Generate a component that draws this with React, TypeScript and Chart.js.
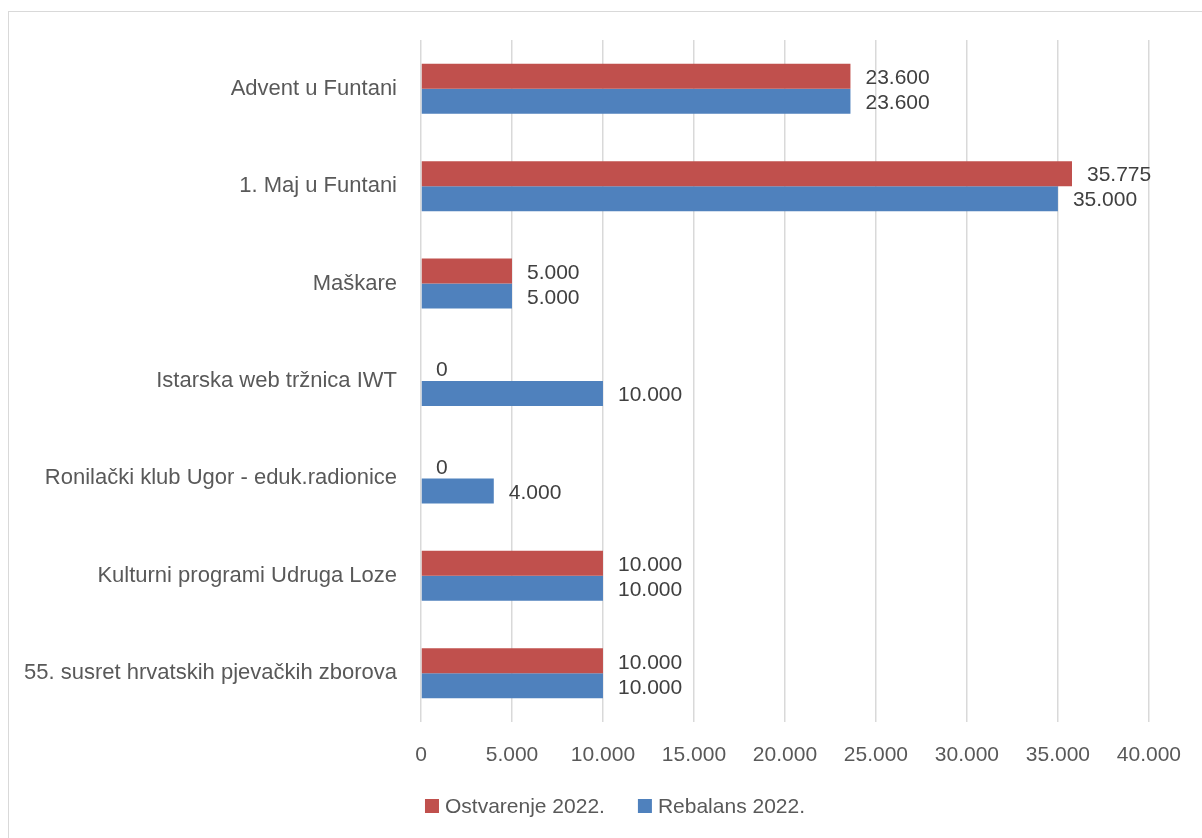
import React, { useEffect, useRef } from "react";
import { Chart, registerables } from "chart.js";

Chart.register(...registerables);

const categories = [
  "Advent u Funtani",
  "1. Maj u Funtani",
  "Maškare",
  "Istarska web tržnica IWT",
  "Ronilački klub Ugor - eduk.radionice",
  "Kulturni programi Udruga Loze",
  "55. susret hrvatskih pjevačkih zborova",
];
const ostvarenje2022 = [23600, 35775, 5000, 0, 0, 10000, 10000];
const rebalans2022 = [23600, 35000, 5000, 10000, 4000, 10000, 10000];
const seriesLabels = ["Ostvarenje 2022.", "Rebalans 2022."];
const seriesColors = ["#C0504D", "#4F81BD"];

const FONT = "'Liberation Sans', Arial, sans-serif";
const FONT_SIZE = 21;
const CAT_FONT_SIZE = 22;

const fmt = (v: number) =>
  String(Math.round(v)).replace(/\B(?=(\d{3})+(?!\d))/g, ".");

const valueLabels = {
  id: "valueLabels",
  afterDatasetsDraw(chart: any) {
    const ctx = chart.ctx;
    ctx.save();
    ctx.font = `${FONT_SIZE}px ${FONT}`;
    ctx.fillStyle = "#404040";
    ctx.textAlign = "left";
    ctx.textBaseline = "middle";
    chart.data.datasets.forEach((ds: any, di: number) => {
      const meta = chart.getDatasetMeta(di);
      meta.data.forEach((el: any, i: number) => {
        ctx.fillText(fmt(ds.data[i]), el.x + 15, el.y + 2);
      });
    });
    ctx.restore();
  },
};

const customLegend = {
  id: "customLegend",
  afterDraw(chart: any) {
    const ctx = chart.ctx;
    ctx.save();
    ctx.font = `${FONT_SIZE}px ${FONT}`;
    ctx.textBaseline = "middle";
    ctx.textAlign = "left";
    const box = 14;
    const gapText = 6;
    const gapItem = 33;
    const widths = seriesLabels.map((l) => ctx.measureText(l).width);
    const total =
      widths.reduce((a, b) => a + b, 0) +
      seriesLabels.length * (box + gapText) +
      gapItem * (seriesLabels.length - 1);
    let x = chart.width / 2 + 14 - total / 2;
    const y = 806;
    seriesLabels.forEach((l, i) => {
      ctx.fillStyle = seriesColors[i];
      ctx.fillRect(x, y - box / 2, box, box);
      x += box + gapText;
      ctx.fillStyle = "#595959";
      ctx.fillText(l, x, y + 1);
      x += widths[i] + gapItem;
    });
    ctx.restore();
  },
};

export default function App() {
  const ref = useRef<HTMLCanvasElement>(null);
  useEffect(() => {
    if (!ref.current) return;
    const chart = new Chart(ref.current, {
      type: "bar",
      data: {
        labels: categories,
        datasets: [
          {
            label: seriesLabels[0],
            data: ostvarenje2022,
            backgroundColor: seriesColors[0],
          },
          {
            label: seriesLabels[1],
            data: rebalans2022,
            backgroundColor: seriesColors[1],
          },
        ],
      },
      options: {
        indexAxis: "y",
        responsive: false,
        animation: false,
        layout: { padding: { top: 40, right: 53, left: 0, bottom: 0 } },
        datasets: {
          bar: { categoryPercentage: 0.513, barPercentage: 1 },
        },
        plugins: {
          legend: { display: false },
          tooltip: { enabled: false },
        },
        scales: {
          x: {
            min: 0,
            max: 40000,
            ticks: {
              stepSize: 5000,
              callback: (v: any) => fmt(Number(v)),
              color: "#595959",
              font: { family: FONT, size: FONT_SIZE },
              padding: 21,
            },
            grid: { color: "#d9d9d9", lineWidth: 1.5, drawTicks: false },
            border: { display: false },
            afterFit: (scale: any) => {
              scale.height = 116;
            },
          },
          y: {
            ticks: {
              color: "#595959",
              font: { family: FONT, size: CAT_FONT_SIZE },
              padding: 24,
            },
            grid: { display: false, drawTicks: false },
            border: { display: false },
            afterFit: (scale: any) => {
              scale.width = 421;
            },
          },
        },
      } as any,
      plugins: [valueLabels, customLegend],
    });
    return () => chart.destroy();
  }, []);

  return (
    <div style={{ position: "absolute", left: 0, top: 0, width: 1202, height: 838, background: "#fff", overflow: "hidden" }}>
      <div
        style={{
          position: "absolute",
          left: 8,
          top: 11,
          width: 1200,
          height: 840,
          border: "1px solid #d9d9d9",
          boxSizing: "border-box",
        }}
      />
      <canvas
        ref={ref}
        width={1202}
        height={838}
        style={{ position: "absolute", left: 0, top: 0, width: 1202, height: 838 }}
      />
    </div>
  );
}
